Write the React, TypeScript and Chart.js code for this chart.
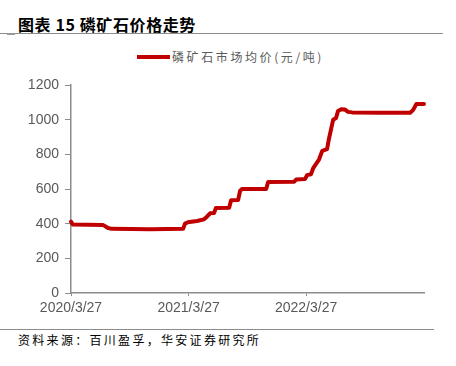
import React, { useEffect, useRef } from "react";
import { Chart, registerables } from "chart.js";

Chart.register(...registerables);

const TITLE = "图表 15 磷矿石价格走势";
const SERIES_NAME = "磷矿石市场均价(元/吨)";
const SOURCE = "资料来源：百川盈孚，华安证券研究所";

const START_DATE = "2020-03-27";
const END_DATE = "2023-03-28";
const TICK_DATES = ["2020-03-27", "2021-03-27", "2022-03-27"];
const TICK_LABELS = ["2020/3/27", "2021/3/27", "2022/3/27"];

const dates = [
  "2020-03-27", "2020-04-02", "2020-07-04", "2020-07-20", "2020-08-01", "2020-11-27",
  "2021-03-10", "2021-03-16", "2021-03-25", "2021-04-22", "2021-05-14", "2021-05-23",
  "2021-06-02", "2021-06-14", "2021-06-20", "2021-07-31", "2021-08-06", "2021-08-28",
  "2021-09-03", "2021-09-09", "2021-11-23", "2021-11-29", "2022-02-18", "2022-02-24",
  "2022-03-24", "2022-03-30", "2022-04-11", "2022-04-18", "2022-04-27", "2022-05-06",
  "2022-05-16", "2022-05-31", "2022-06-06", "2022-06-13", "2022-06-19", "2022-06-28",
  "2022-07-04", "2022-07-14", "2022-07-26", "2022-08-04", "2022-08-17", "2022-11-12",
  "2023-02-13", "2023-02-22", "2023-03-04", "2023-03-28",
];
const prices = [
  412, 395, 393, 375, 370, 368,
  370, 400, 408, 415, 425, 440,
  460, 462, 490, 492, 535, 537,
  590, 600, 600, 640, 642, 655,
  658, 680, 685, 720, 745, 770,
  820, 830, 890, 950, 1000, 1010,
  1050, 1060, 1058, 1045, 1042, 1040,
  1040, 1055, 1090, 1090,
];

const dayOf = (s: string) => {
  const [y, m, d] = s.split("-").map(Number);
  const [y0, m0, d0] = START_DATE.split("-").map(Number);
  return Math.round((Date.UTC(y, m - 1, d) - Date.UTC(y0, m0 - 1, d0)) / 86400000);
};

export default function App() {
  const ref = useRef<HTMLCanvasElement | null>(null);

  useEffect(() => {
    if (!ref.current) return;
    const tickDays = TICK_DATES.map(dayOf);
    const chart = new Chart(ref.current, {
      type: "line",
      data: {
        datasets: [
          {
            label: SERIES_NAME,
            data: dates.map((d, i) => ({ x: dayOf(d), y: prices[i] })),
            borderColor: "#C00000",
            backgroundColor: "#C00000",
            borderWidth: 4,
            pointRadius: 0,
            tension: 0,
            clip: false,
            borderJoinStyle: "round",
            borderCapStyle: "round",
          } as any,
        ],
      },
      options: {
        animation: false,
        responsive: false,
        maintainAspectRatio: false,
        layout: { padding: { top: 15, right: 32, left: 0, bottom: 0 } },
        plugins: { legend: { display: false }, tooltip: { enabled: false } },
        scales: {
          x: {
            type: "linear",
            min: 0,
            max: dayOf(END_DATE),
            afterBuildTicks: (scale: any) => {
              scale.ticks = tickDays.map((v) => ({ value: v }));
            },
            afterFit: (scale: any) => {
              scale.height = 32;
            },
            ticks: {
              autoSkip: false,
              maxRotation: 0,
              padding: 4,
              color: "#595959",
              font: { family: "'Liberation Sans', Arial, sans-serif", size: 14 },
              callback: (v: any) => {
                const i = tickDays.indexOf(Number(v));
                return i >= 0 ? TICK_LABELS[i] : "";
              },
            },
            grid: { drawOnChartArea: false, drawTicks: true, tickLength: 3, color: "#8c8c8c" },
            border: { display: true, color: "#8c8c8c", width: 1.5 },
          },
          y: {
            min: 0,
            max: 1200,
            afterFit: (scale: any) => {
              scale.width = 71;
            },
            ticks: {
              stepSize: 200,
              padding: 6,
              color: "#595959",
              font: { family: "'Liberation Sans', Arial, sans-serif", size: 14 },
              callback: (v: any) => String(v),
            },
            grid: { drawOnChartArea: false, drawTicks: true, tickLength: 6, color: "#8c8c8c" },
            border: { display: true, color: "#8c8c8c", width: 1.5 },
          },
        },
      },
    });
    return () => chart.destroy();
  }, []);

  const cjk = "'Noto Sans CJK SC', 'Noto Sans', sans-serif";

  return (
    <div
      style={{
        position: "absolute",
        left: 0,
        top: 0,
        width: 456,
        height: 366,
        background: "#fff",
        overflow: "hidden",
      }}
    >
      <div
        style={{
          position: "absolute",
          left: 18,
          top: 12,
          fontFamily: cjk,
          fontWeight: 700,
          fontSize: 16,
          letterSpacing: 0.6,
          lineHeight: "24px",
          color: "#000",
          whiteSpace: "nowrap",
        }}
      >
        {TITLE}
      </div>
      <div style={{ position: "absolute", left: 0, top: 33, width: 443, height: 1, background: "#8c8c8c" }} />
      <div style={{ position: "absolute", left: 7, top: 33, width: 8, height: 2, background: "#999" }} />

      <div style={{ position: "absolute", left: 137, top: 55, width: 33, height: 4, background: "#C00000" }} />
      <div
        style={{
          position: "absolute",
          left: 172,
          top: 48,
          fontFamily: cjk,
          fontSize: 12,
          letterSpacing: 2.6,
          lineHeight: "18px",
          color: "#595959",
          whiteSpace: "nowrap",
        }}
      >
        {SERIES_NAME}
      </div>

      <canvas
        ref={ref}
        width={456}
        height={255}
        style={{ position: "absolute", left: 0, top: 70, width: 456, height: 255 }}
      />

      <div style={{ position: "absolute", left: 0, top: 329, width: 434, height: 1, background: "#8c8c8c" }} />
      <div
        style={{
          position: "absolute",
          left: 18,
          top: 331,
          fontFamily: cjk,
          fontSize: 12,
          letterSpacing: 2.3,
          lineHeight: "18px",
          color: "#000",
          whiteSpace: "nowrap",
        }}
      >
        {SOURCE}
      </div>
    </div>
  );
}
